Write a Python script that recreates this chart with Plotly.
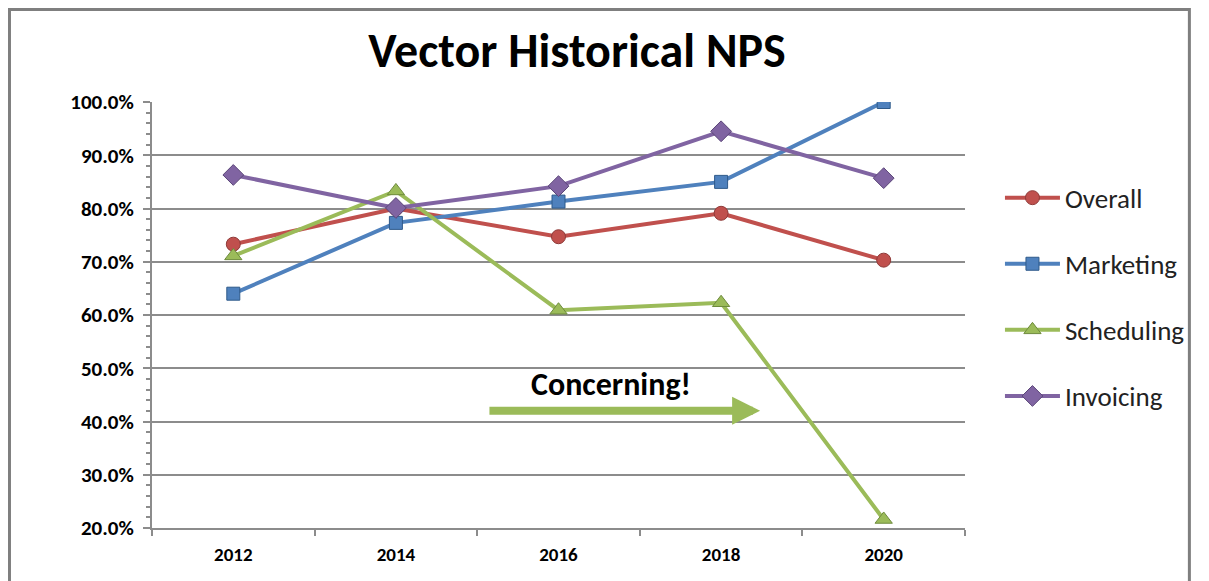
import plotly.graph_objects as go

years = ["2012", "2014", "2016", "2018", "2020"]
overall = [0.733, 0.800, 0.747, 0.791, 0.703]
marketing = [0.640, 0.773, 0.813, 0.850, 1.000]
scheduling = [0.711, 0.833, 0.609, 0.623, 0.216]
invoicing = [0.863, 0.801, 0.842, 0.945, 0.857]

series_names = ["Overall", "Marketing", "Scheduling", "Invoicing"]
series_values = [overall, marketing, scheduling, invoicing]
line_colors = ["#C0504D", "#4F81BD", "#9BBB59", "#8064A2"]
marker_edge = ["#8E3A38", "#2F5A8A", "#6E8B3D", "#5A4578"]
symbols = ["circle", "square", "triangle-up", "diamond"]
sizes = [14, 13, 15, 16]

FONT = "Carlito, Lato, 'Open Sans', sans-serif"

fig = go.Figure()
for i, (name, vals) in enumerate(zip(series_names, series_values)):
    fig.add_trace(go.Scatter(
        x=years, y=vals, name=name, mode="lines+markers",
        legendgroup=name,
        line=dict(color=line_colors[i], width=4),
        marker=dict(symbol=symbols[i], size=sizes[i], color=line_colors[i],
                    line=dict(color=marker_edge[i], width=1)),
    ))

grid_color = "#8C8C8C"

fig.update_layout(
    width=1209, height=581,
    paper_bgcolor="white", plot_bgcolor="white",
    margin=dict(l=144, r=252, t=94, b=61),
    title=dict(text="<b>Vector Historical NPS</b>", x=0.4706, xanchor="center",
               y=0.928, yanchor="middle",
               font=dict(family=FONT, size=48, color="black")),
    showlegend=True,
    legend=dict(x=1.043, xanchor="left", y=0.542, yanchor="middle",
                font=dict(family=FONT, size=27, color="#222222"),
                itemwidth=55,
                tracegroupgap=28, bgcolor="rgba(0,0,0,0)"),
    font=dict(family=FONT),
)

fig.update_xaxes(
    type="category", range=[-0.5, 4.5],
    showline=True, linecolor=grid_color, linewidth=2,
    ticks="outside", tickson="boundaries", ticklen=6, tickcolor=grid_color, tickwidth=2,
    showgrid=False, zeroline=False, ticklabelstandoff=8,
    tickfont=dict(family=FONT, size=19, color="black", weight="bold"),
)
fig.update_yaxes(
    range=[0.2, 1.0], dtick=0.1, tick0=0.2, tickformat=".1%",
    showline=True, linecolor=grid_color, linewidth=2,
    showgrid=True, gridcolor=grid_color, gridwidth=2,
    ticks="outside", ticklen=7, tickcolor=grid_color, tickwidth=2,
    minor=dict(dtick=0.02, tick0=0.2, ticks="outside", ticklen=4,
               tickcolor=grid_color, tickwidth=1.5, showgrid=False),
    zeroline=False, ticklabelstandoff=5,
    tickfont=dict(family=FONT, size=21, color="black", weight="bold"),
)

# outer chart border
fig.add_shape(type="rect", xref="paper", yref="paper",
              x0=-0.1753, x1=1.276, y0=-0.3, y1=1.2171,
              line=dict(color="#7F7F7F", width=3), fillcolor="rgba(0,0,0,0)",
              layer="below")

# callout arrow and text
fig.add_annotation(x=3.24, y=0.42, ax=1.566, ay=0.42, xref="x", yref="y",
                   axref="x", ayref="y", text="", showarrow=True,
                   arrowhead=2, arrowsize=0.7, arrowwidth=8, arrowcolor="#9BBB59")
fig.add_annotation(x=2.32, y=0.47, xref="x", yref="y", text="<b>Concerning!</b>",
                   showarrow=False, font=dict(family=FONT, size=32, color="black"))

fig.write_html("out.html")
